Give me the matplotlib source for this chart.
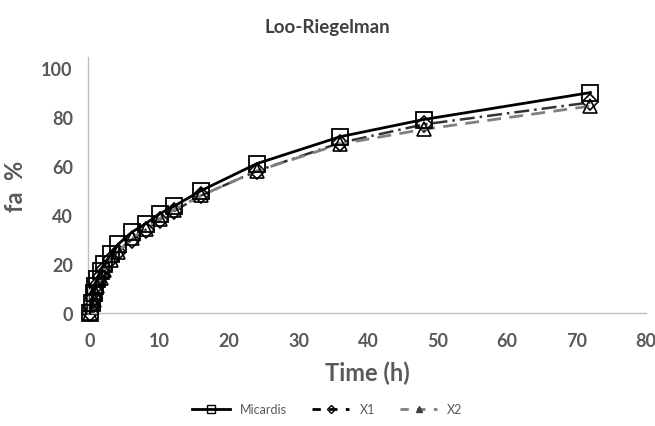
import matplotlib.pyplot as plt
from matplotlib.lines import Line2D

# time points (h) and fraction absorbed (%)
time_h = [0, 0.25, 0.5, 0.75, 1, 1.5, 2, 3, 4, 6, 8, 10, 12, 16, 24, 36, 48, 72]
micardis = [0, 4, 8, 11, 14, 17, 20, 24, 28, 33, 36.5, 40.5, 43.5, 50, 61, 72, 79, 90]
x1 = [0, 3, 6, 9, 11.5, 15, 18, 22, 25, 30, 34, 38, 41.5, 48, 58, 69.5, 77, 86]
x2 = [0, 2.5, 5.5, 8.5, 11, 14.5, 17.5, 21.5, 25, 30.5, 34.5, 38.5, 42, 48, 58, 69, 75, 84.5]

x_ticks = [0, 10, 20, 30, 40, 50, 60, 70, 80]
y_ticks = [0, 20, 40, 60, 80, 100]

plt.rcParams['font.family'] = ['Lato', 'DejaVu Sans']

fig = plt.figure(figsize=(6.55, 4.27), dpi=100)
ax = fig.add_axes([0.1344, 0.2646, 0.8519, 0.5994])

ax.plot(time_h, micardis, color='black', lw=2, ls='-', marker='s', ms=12,
        mfc='none', mec='black', mew=1.3, zorder=3, clip_on=False)
ax.plot(time_h, x1, color='#333333', lw=1.8, ls=(0, (6, 2, 1, 2)), marker='D', ms=8,
        mfc='none', mec='black', mew=1.2, zorder=2, clip_on=False)
ax.plot(time_h, x2, color='#808080', lw=2, ls=(0, (5, 3)), marker='^', ms=10,
        mfc='none', mec='black', mew=1.2, zorder=2, clip_on=False)

ax.set_xlim(-0.3, 80)
ax.set_ylim(0, 104.5)
ax.set_xticks(x_ticks)
ax.set_yticks(y_ticks)
for s in ['top', 'right']:
    ax.spines[s].set_visible(False)
for s in ['left', 'bottom']:
    ax.spines[s].set_color('#bfbfbf')
    ax.spines[s].set_linewidth(1)
ax.tick_params(length=0, labelsize=13, labelcolor='#595959')
ax.tick_params(axis='x', pad=14)
ax.tick_params(axis='y', pad=11)
for lab in ax.get_xticklabels() + ax.get_yticklabels():
    lab.set_fontweight('bold')

ax.set_xlabel('Time (h)', fontsize=17, fontweight='bold', color='#595959', labelpad=8)
ax.set_ylabel('fa  %', fontsize=17, fontweight='bold', color='#595959', labelpad=10)
fig.text(0.5, 0.935, 'Loo-Riegelman', ha='center', va='center', fontsize=13.5,
         fontweight='bold', color='#404040')

handles = [
    Line2D([], [], color='black', lw=2, marker='s', ms=6, mfc='none', mec='black'),
    Line2D([], [], color='black', lw=2, ls=(0, (3, 3)), marker='D', ms=4, mfc='none', mec='black'),
    Line2D([], [], color='#808080', lw=2, ls=(0, (3, 3)), marker='^', ms=5, mfc='#404040', mec='#404040'),
]
fig.legend(handles, ['Micardis', 'X1', 'X2'], loc='center', bbox_to_anchor=(0.5, 0.04),
           ncol=3, frameon=False, fontsize=9, handlelength=3, columnspacing=2,
           labelcolor='#595959')

fig.savefig('out.png', dpi=100)
